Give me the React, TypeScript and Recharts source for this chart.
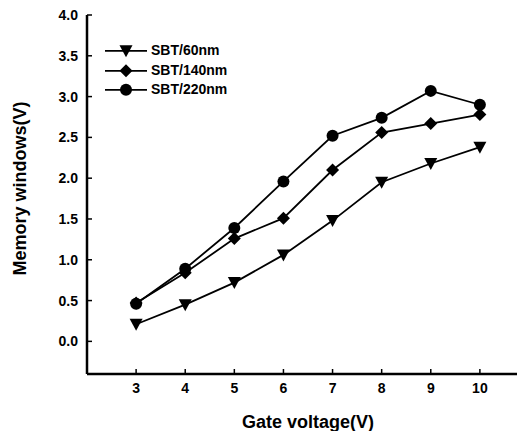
import React from 'react';
import { LineChart, Line, XAxis, YAxis, Legend, Label } from 'recharts';

const gateVoltage = [3, 4, 5, 6, 7, 8, 9, 10];
const sbt60 = [0.21, 0.45, 0.72, 1.06, 1.48, 1.95, 2.18, 2.38];
const sbt140 = [0.47, 0.84, 1.26, 1.51, 2.1, 2.56, 2.67, 2.78];
const sbt220 = [0.46, 0.89, 1.39, 1.96, 2.52, 2.74, 3.07, 2.9];
const seriesNames = ['SBT/60nm', 'SBT/140nm', 'SBT/220nm'];
const seriesShapes = ['triangle', 'diamond', 'circle'];
const xTicks = [3, 4, 5, 6, 7, 8, 9, 10];
const yMajorTicks = [0, 0.5, 1, 1.5, 2, 2.5, 3, 3.5, 4];
const yMinorTicks = [-0.25, 0.25, 0.75, 1.25, 1.75, 2.25, 2.75, 3.25, 3.75];

const data = gateVoltage.map((v, i) => ({ v, s60: sbt60[i], s140: sbt140[i], s220: sbt220[i] }));

const FONT = '"Liberation Sans", Arial, sans-serif';

const Marker = ({ shape, cx, cy }: { shape: string; cx: number; cy: number }) => {
  if (cx == null || cy == null) return null;
  if (shape === 'triangle') {
    return (
      <polygon
        points={`${cx - 6.5},${cy - 5.5} ${cx + 6.5},${cy - 5.5} ${cx},${cy + 6.5}`}
        fill="#000"
      />
    );
  }
  if (shape === 'diamond') {
    return (
      <polygon
        points={`${cx},${cy - 6.5} ${cx + 6.5},${cy} ${cx},${cy + 6.5} ${cx - 6.5},${cy}`}
        fill="#000"
      />
    );
  }
  return <circle cx={cx} cy={cy} r={6} fill="#000" />;
};

const makeDot = (shape: string) => (props: any) => (
  <Marker key={`${shape}-${props.index}`} shape={shape} cx={props.cx} cy={props.cy} />
);

const renderLegend = () => (
  <div style={{ display: 'flex', flexDirection: 'column' }}>
    {seriesNames.map((name, i) => (
      <div key={name} style={{ height: 19.7, display: 'flex', alignItems: 'center' }}>
        <svg width={42} height={19.7} style={{ display: 'block' }}>
          <line x1={0} x2={42} y1={9.85} y2={9.85} stroke="#000" strokeWidth={1.8} />
          <Marker shape={seriesShapes[i]} cx={21} cy={9.85} />
        </svg>
        <span
          style={{
            marginLeft: 4,
            fontFamily: FONT,
            fontWeight: 'bold',
            fontSize: 14,
            color: '#000',
            lineHeight: '19.7px',
            whiteSpace: 'nowrap',
          }}
        >
          {name}
        </span>
      </div>
    ))}
  </div>
);

const YTitle = (props: any) => {
  const vb = props.viewBox || { x: 0, y: 0, width: 0, height: 0 };
  const cx = vb.x + 18;
  const cy = vb.y + vb.height / 2 - 6;
  return (
    <text
      x={cx}
      y={cy}
      transform={`rotate(-90 ${cx} ${cy})`}
      textAnchor="middle"
      fontFamily={FONT}
      fontWeight="bold"
      fontSize={18}
      fill="#000"
    >
      Memory windows(V)
    </text>
  );
};

const XTick = (props: any) => (
  <text
    x={props.x}
    y={props.y}
    dy="0.71em"
    textAnchor="middle"
    fontFamily={FONT}
    fontWeight="bold"
    fontSize={14}
    fill="#000"
  >
    {props.payload.value}
  </text>
);

const YTick = (props: any) => (
  <text
    x={props.x}
    y={props.y}
    dy="0.36em"
    textAnchor="end"
    fontFamily={FONT}
    fontWeight="bold"
    fontSize={14}
    fill="#000"
  >
    {Number(props.payload.value).toFixed(1)}
  </text>
);

export default function App() {
  return (
    <div style={{ width: 517, height: 423, overflow: 'hidden', position: 'relative' }}>
      <LineChart width={530} height={423} data={data} margin={{ top: 7, right: 530 - 79 - 442, bottom: 0, left: 0 }}>
        <XAxis
          dataKey="v"
          type="number"
          domain={[2, 11]}
          ticks={xTicks}
          interval={0}
          allowDataOverflow
          stroke="#000"
          strokeWidth={2.5}
          tickSize={-5}
          tickMargin={14}
          tick={<XTick />}
          tickLine={{ stroke: '#000', strokeWidth: 1.5 }}
          axisLine={{ stroke: '#000', strokeWidth: 2.5 }}
          height={57}
        >
          <Label
            value="Gate voltage(V)"
            position="insideBottom"
            offset={3}
            style={{ fontFamily: FONT, fontWeight: 'bold', fontSize: 18, fill: '#000' }}
          />
        </XAxis>
        <XAxis
          xAxisId="top"
          dataKey="v"
          type="number"
          domain={[2, 11]}
          orientation="top"
          stroke="#000"
          strokeWidth={2}
          tick={false}
          tickLine={false}
          height={0}
          axisLine={{ stroke: '#000', strokeWidth: 2 }}
        />
        <YAxis
          type="number"
          domain={[-0.4, 4]}
          ticks={yMajorTicks}
          interval={0}
          allowDataOverflow
          width={79}
          stroke="#000"
          strokeWidth={2.5}
          tickSize={-5}
          tickMargin={14}
          tick={<YTick />}
          tickLine={{ stroke: '#000', strokeWidth: 1.5 }}
          axisLine={{ stroke: '#000', strokeWidth: 2.5 }}
        >
          <Label content={<YTitle />} position="center" />
        </YAxis>
        <YAxis
          yAxisId="minor"
          type="number"
          domain={[-0.4, 4]}
          ticks={yMinorTicks}
          interval={0}
          allowDataOverflow
          width={0}
          stroke="#000"
          tickSize={3}
          tick={false}
          tickLine={{ stroke: '#000', strokeWidth: 1.5 }}
          axisLine={false}
        />
        <Legend
          layout="vertical"
          align="center"
          verticalAlign="middle"
          content={renderLegend}
          wrapperStyle={{ position: 'absolute', left: 97, top: 33, width: 'auto', height: 'auto' }}
        />
        <Line
          dataKey="s60"
          name={seriesNames[0]}
          stroke="#000"
          strokeWidth={1.8}
          dot={makeDot('triangle')}
          activeDot={false}
          isAnimationActive={false}
        />
        <Line
          dataKey="s140"
          name={seriesNames[1]}
          stroke="#000"
          strokeWidth={1.8}
          dot={makeDot('diamond')}
          activeDot={false}
          isAnimationActive={false}
        />
        <Line
          dataKey="s220"
          name={seriesNames[2]}
          stroke="#000"
          strokeWidth={1.8}
          dot={makeDot('circle')}
          activeDot={false}
          isAnimationActive={false}
        />
      </LineChart>
    </div>
  );
}
